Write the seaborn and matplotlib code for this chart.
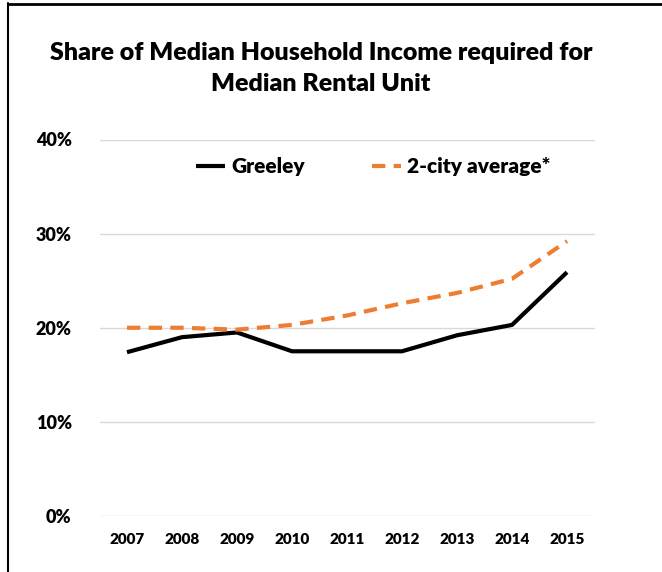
import numpy as np
import pandas as pd
import matplotlib.pyplot as plt
import seaborn as sns
from matplotlib.lines import Line2D
from matplotlib.ticker import PercentFormatter

years = ['2007', '2008', '2009', '2010', '2011', '2012', '2013', '2014', '2015']
greeley = [17.4, 19.0, 19.5, 17.5, 17.5, 17.5, 19.2, 20.3, 25.9]
two_city = [20.0, 20.0, 19.8, 20.3, 21.3, 22.6, 23.7, 25.2, 29.2]
series_names = ['Greeley', '2-city average*']

df = pd.DataFrame({'year': years * 2,
                   'value': greeley + two_city,
                   'series': [series_names[0]] * 9 + [series_names[1]] * 9})

sns.set_style('white')
plt.rcParams['font.family'] = ['Lato', 'DejaVu Sans']
plt.rcParams['text.color'] = 'black'
plt.rcParams['xtick.color'] = 'black'
plt.rcParams['ytick.color'] = 'black'

fig = plt.figure(figsize=(6.62, 5.72), dpi=100)
ax = fig.add_axes([99.5 / 662, 1 - 516 / 572, 495 / 662, 376.5 / 572])

sns.lineplot(data=df, x='year', y='value', hue='series', style='series',
             palette=['black', '#ED7D31'], dashes=[(1, 0), (3.2, 2)],
             linewidth=3, ax=ax, sort=False)

ax.set_xlim(-0.5, len(years) - 0.5)
ax.set_ylim(0, 40)
ax.set_yticks([0, 10, 20, 30, 40])
ax.yaxis.set_major_formatter(PercentFormatter(decimals=0))
ax.grid(axis='y', color='#d9d9d9', linewidth=1)
ax.set_axisbelow(True)
for s in ax.spines.values():
    s.set_visible(False)
ax.set_xlabel('')
ax.set_ylabel('')
ax.tick_params(axis='both', length=0, labelsize=11)
ax.tick_params(axis='y', pad=20, labelsize=13)
ax.tick_params(axis='x', pad=12)
for lab in ax.get_xticklabels() + ax.get_yticklabels():
    lab.set_fontweight('heavy')

leg = ax.legend(loc='upper center', bbox_to_anchor=(0.553, 1.003), ncol=2,
                frameon=False, fontsize=15, handlelength=1.4,
                columnspacing=3.2, handletextpad=0.3)
for t in leg.get_texts():
    t.set_fontweight('heavy')

fig.text(0.485, 0.881, 'Share of Median Household Income required for\nMedian Rental Unit',
         ha='center', va='center', fontsize=18, fontweight='heavy', linespacing=1.5)

# border on left and top like the screenshot
fig.add_artist(Line2D([8 / 662, 8 / 662], [0, 1 - 3 / 572], color='black', lw=1.5))
fig.add_artist(Line2D([8 / 662, 1], [1 - 3.5 / 572, 1 - 3.5 / 572], color='black', lw=2))

fig.savefig('out.png', dpi=100)
